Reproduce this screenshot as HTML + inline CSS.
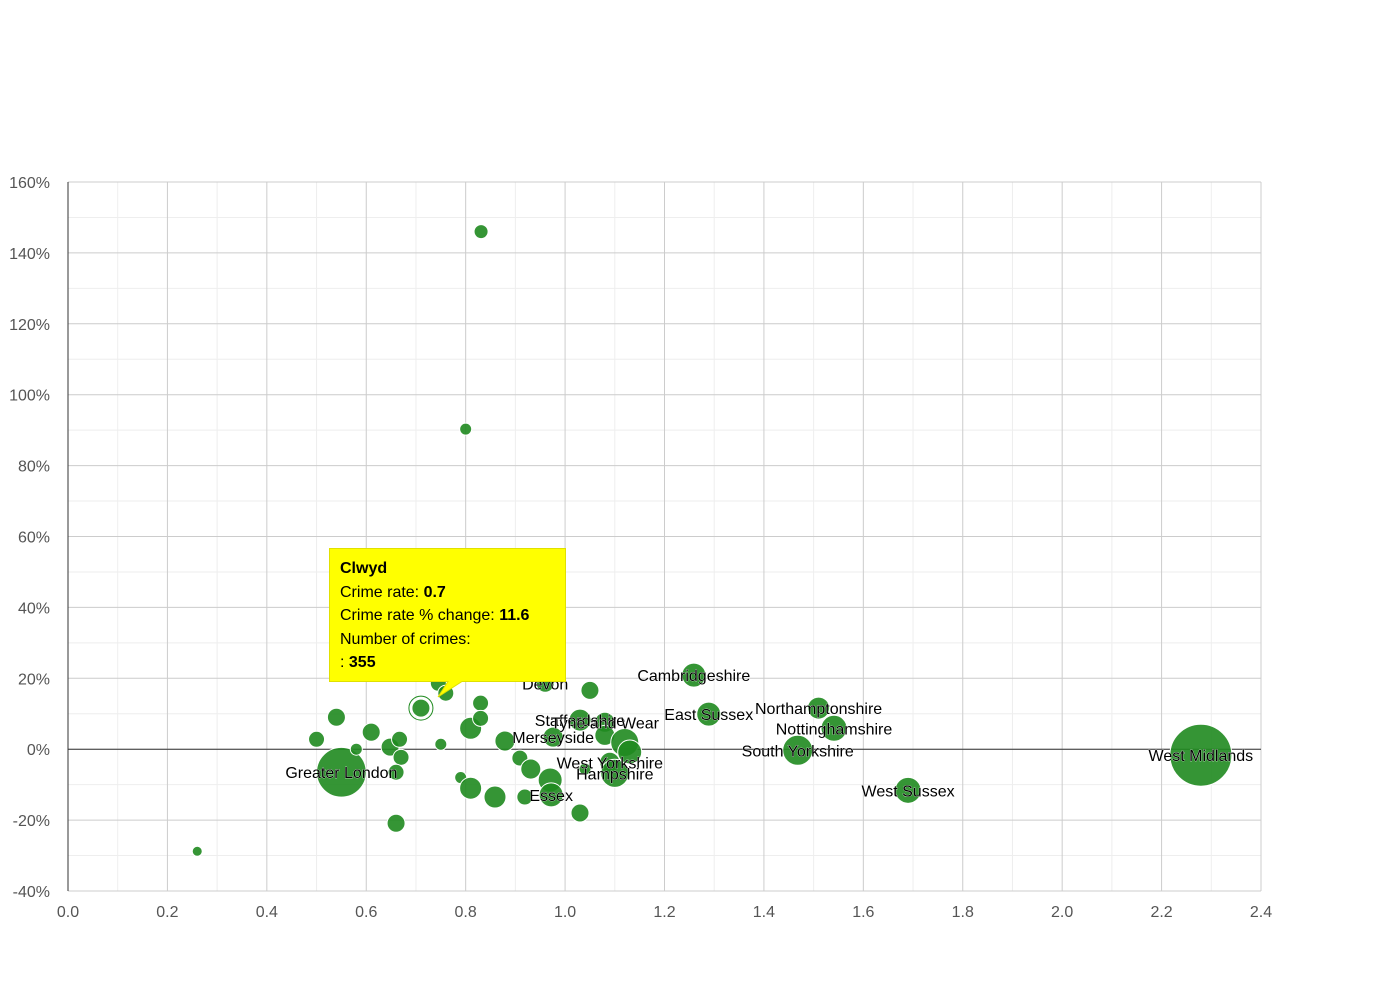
<!DOCTYPE html>
<html><head><meta charset="utf-8"><style>
body{margin:0;background:#fff;font-family:"Liberation Sans",sans-serif;}
svg text{font-family:"Liberation Sans",sans-serif;}
</style></head><body>
<svg id="chart" width="1390" height="980" xmlns="http://www.w3.org/2000/svg"></svg>
<script>
const xVals=[0.831,0.80,0.26,0.55,0.50,0.54,0.58,0.61,0.648,0.667,0.67,0.66,0.66,0.71,0.745,0.76,0.75,0.79,0.81,0.81,0.83,0.83,0.859,0.879,0.909,0.919,0.931,0.96,0.97,0.972,0.976,1.03,1.05,1.03,1.04,1.08,1.08,1.09,1.10,1.12,1.13,1.259,1.289,1.51,1.541,1.468,1.69,2.279];
const yVals=[146,90.3,-28.8,-6.5,2.8,9,0,4.8,0.6,2.8,-2.3,-6.5,-20.9,11.6,18.6,15.8,1.4,-8,-11,5.9,13,8.7,-13.5,2.3,-2.5,-13.5,-5.6,18.6,-8.7,-12.9,3.4,8.2,16.6,-18,-5.6,7.6,3.9,-3.7,-6.8,1.9,-0.8,20.9,9.9,11.6,5.9,-0.3,-11.6,-1.7];
const crimes=[215,158,110,2700,280,355,158,355,355,280,280,280,355,355,280,280,158,158,530,530,280,280,530,440,280,280,440,355,630,630,440,530,355,355,158,440,440,440,860,860,630,630,630,530,740,985,740,4200];
const names=["","","","Greater London","","","","","","","","","","Clwyd","","","","","","","","","","","","","","Devon","","Essex","Merseyside","Staffordshire","","","","Tyne and Wear","","West Yorkshire","Hampshire","","","Cambridgeshire","East Sussex","Northamptonshire","Nottinghamshire","South Yorkshire","West Sussex","West Midlands"];
const xTicks=[0,0.2,0.4,0.6,0.8,1.0,1.2,1.4,1.6,1.8,2.0,2.2,2.4];
const yTicks=[-40,-20,0,20,40,60,80,100,120,140,160];
const X0=68,X1=1261,Y0=891,Y1=182;
const xs=v=>X0+(v-0)/(2.4)*(X1-X0);
const ys=v=>Y0-(v+40)/200*(Y0-Y1);
const rs=c=>Math.sqrt(c)*0.478;
const svg=document.getElementById('chart');
const NS='http://www.w3.org/2000/svg';
function mk(t,a,p){const e=document.createElementNS(NS,t);for(const k in a)e.setAttribute(k,a[k]);(p||svg).appendChild(e);return e;}
// minor grid
for(let v=0.1;v<2.4;v+=0.2){const l=mk('line',{x1:xs(v),x2:xs(v),y1:Y1,y2:Y0,stroke:'#eeeeee'});

}
for(let v=-30;v<160;v+=20){const l=mk('line',{x1:X0,x2:X1,y1:ys(v),y2:ys(v),stroke:'#eeeeee'});

}
xTicks.forEach(v=>{const l=mk('line',{x1:xs(v),x2:xs(v),y1:Y1,y2:Y0,stroke:'#cccccc'});


const t=mk('text',{x:xs(v),y:917,'text-anchor':'middle','font-size':16,fill:'#555'});t.textContent=v.toFixed(1);

});
yTicks.forEach(v=>{const l=mk('line',{x1:X0,x2:X1,y1:ys(v),y2:ys(v),stroke:'#cccccc'});


const t=mk('text',{x:50,y:ys(v)+6,'text-anchor':'end','font-size':16,fill:'#555'});t.textContent=v+'%';

});
const ax=mk('line',{x1:X0,x2:X0,y1:Y1,y2:Y0,stroke:'#333'});


const zl=mk('line',{x1:X0,x2:X1,y1:ys(0),y2:ys(0),stroke:'#333'});


const g=mk('g',{});
xVals.forEach((v,i)=>{const c=mk('circle',{cx:xs(v),cy:ys(yVals[i]),r:rs(crimes[i]),fill:'#1f8a1f','fill-opacity':0.9,stroke:'#fff','stroke-width':1},g);


if(names[i]==='Clwyd'){const h=mk('circle',{cx:xs(v),cy:ys(yVals[i]),r:rs(crimes[i])+3,fill:'none',stroke:'#1f8a1f','stroke-width':1},g);

}});
xVals.forEach((v,i)=>{if(!names[i]||names[i]==='Clwyd')return;const t=mk('text',{x:xs(v),y:ys(yVals[i])+6,'text-anchor':'middle','font-size':16,fill:'#000',stroke:'#fff','stroke-width':0.5,'paint-order':'stroke'});t.textContent=names[i];

});
// tooltip
const tg=mk('g',{});


mk('path',{d:'M329.5 548.5 H565.5 V681.5 H462 L438 697 L448 681.5 H329.5 Z',fill:'#ffff00',stroke:'#e0e000'},tg);
const lines=[['Clwyd','',567],['Crime rate: ','0.7',591],['Crime rate % change: ','11.6',614],['Number of crimes:','',638],[': ','355',661]];
lines.forEach((L,i)=>{const t=mk('text',{x:340,y:L[2]+6,'font-size':16,fill:'#000'},tg);
if(i===0){t.setAttribute('font-weight','bold');t.textContent=L[0];}
else{t.textContent=L[0];const b=mk('tspan',{'font-weight':'bold'},t);b.textContent=L[1];}});
</script>
</body></html>
